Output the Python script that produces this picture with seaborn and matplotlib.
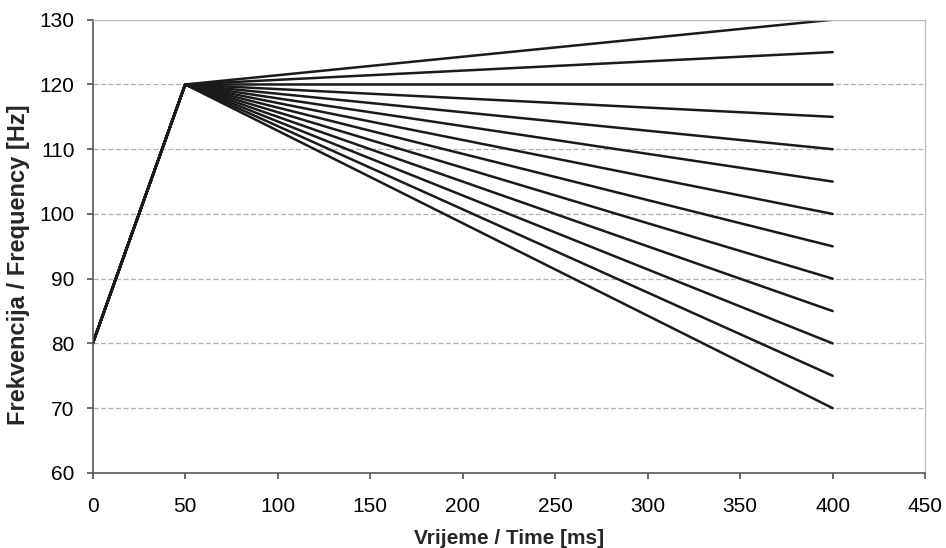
import numpy as np
import pandas as pd
import matplotlib
matplotlib.use("Agg")
import matplotlib.pyplot as plt
import seaborn as sns

# Podaci: porast 0-50 ms, zatim lepeza do 400 ms
start_time = [0, 50]
start_freq = [80, 120]
end_time = 400
end_freqs = [130, 125, 120, 115, 110, 105, 100, 95, 90, 85, 80, 75, 70]

x_ticks = [0, 50, 100, 150, 200, 250, 300, 350, 400, 450]
y_ticks = [60, 70, 80, 90, 100, 110, 120, 130]

rows = []
for i, f in enumerate(end_freqs):
    for t, v in zip(start_time + [end_time], start_freq + [f]):
        rows.append({"linija": i, "t": t, "f": v})
df = pd.DataFrame(rows)

sns.set_theme(style="white")
plt.rcParams['font.family'] = ['Liberation Sans', 'DejaVu Sans']

fig = plt.figure(figsize=(9.46, 5.48), dpi=100)
ax = fig.add_axes([0.098, 0.137, 0.880, 0.827])

sns.lineplot(data=df, x="t", y="f", units="linija", estimator=None,
             color="#1a1a1a", linewidth=1.8, ax=ax, legend=False, sort=False)

ax.set_xlim(0, 450)
ax.set_ylim(60, 130)
ax.set_xticks(x_ticks)
ax.set_yticks(y_ticks)
ax.tick_params(axis="both", labelsize=15, colors="black", length=4,
               direction="out", bottom=True, left=True)
ax.tick_params(axis="x", pad=13)
ax.tick_params(axis="y", pad=9)
ax.tick_params(axis="both", color="#555566")

ax.yaxis.grid(True, color="#c8a8b0", linewidth=0.9, linestyle=(0, (4, 2)))
ax.set_axisbelow(True)

for s in ["left", "bottom"]:
    ax.spines[s].set_color("#555566")
    ax.spines[s].set_linewidth(1.2)
for s in ["top", "right"]:
    ax.spines[s].set_color("#b8b8c4")
    ax.spines[s].set_linewidth(0.9)

ax.set_xlabel("Vrijeme / Time [ms]", fontsize=15, fontweight="bold", labelpad=10)
ax.set_ylabel("Frekvencija / Frequency [Hz]", fontsize=17, fontweight="bold")
ax.yaxis.set_label_coords(-0.075, 0.46)

fig.savefig("out.png", dpi=100)
